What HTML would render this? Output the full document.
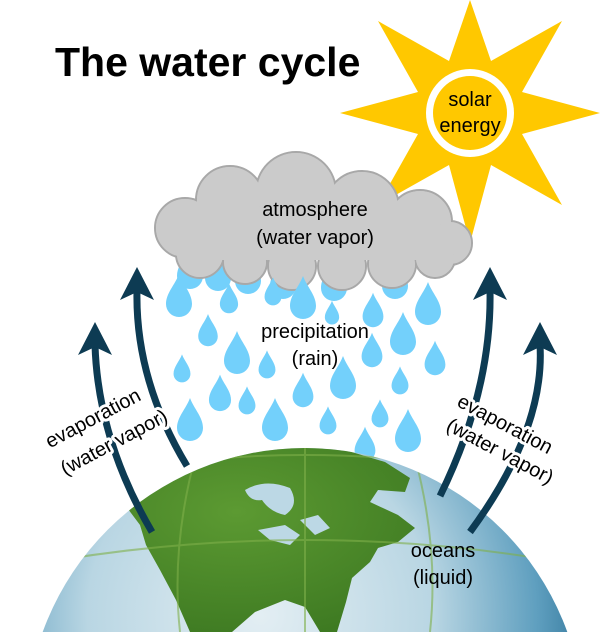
<!DOCTYPE html>
<html><head><meta charset="utf-8"><style>
html,body{margin:0;padding:0;background:#fff;width:601px;height:632px;overflow:hidden;}
svg{display:block;overflow:hidden;}
text{font-family:"Liberation Sans",Arial,sans-serif;fill:#000;}
.h{stroke:#fff;stroke-width:6px;paint-order:stroke;stroke-linejoin:round;}
</style></head><body>
<svg width="601" height="632" viewBox="0 0 601 632" xmlns="http://www.w3.org/2000/svg">
<defs>
<radialGradient id="oc" cx="0.42" cy="0.3" r="0.62">
<stop offset="0" stop-color="#e3eef3"/><stop offset="0.5" stop-color="#b9d6e3"/><stop offset="0.8" stop-color="#5f9fbf"/><stop offset="1" stop-color="#256a90"/>
</radialGradient>
<radialGradient id="ld" cx="0.45" cy="0.35" r="0.7">
<stop offset="0" stop-color="#5c9a32"/><stop offset="1" stop-color="#3e7a22"/>
</radialGradient>
<clipPath id="gc"><circle cx="305" cy="727" r="279"/></clipPath>
<clipPath id="fr"><rect x="0" y="0" width="601" height="632"/></clipPath>
<g id="dp"><path d="M0,-24 C4,-13 13,-5 13,6 A13,13 0 0 1 -13,6 C-13,-5 -4,-13 0,-24Z" fill="#73d0fb"/></g>
</defs>
<g clip-path="url(#fr)">
<text x="55" y="76" font-size="41" font-weight="bold">The water cycle</text>

<!-- sun -->
<polygon fill="#ffc800" points="470,0 491,61 562,21 522,92 600,113 522,134 562,205 491,165 470,243 449,165 378,205 418,134 340,113 418,92 378,21 449,61"/>
<circle cx="470" cy="113" r="44" fill="#fff"/>
<circle cx="470" cy="113" r="37" fill="#ffc800"/>
<text x="470" y="106" font-size="20" text-anchor="middle">solar</text>
<text x="470" y="132" font-size="20" text-anchor="middle">energy</text>

<!-- drops behind cloud -->
<use href="#dp" x="190" y="270"/>
<use href="#dp" x="218" y="272"/>
<use href="#dp" x="248" y="275"/>
<use href="#dp" x="283" y="280"/>
<use href="#dp" x="334" y="282"/>
<use href="#dp" x="395" y="280"/>

<!-- cloud -->
<g fill="#cbcbcb" stroke="#a8a8a8" stroke-width="2">
<circle cx="185" cy="228" r="30"/><circle cx="230" cy="200" r="34"/><circle cx="296" cy="192" r="40"/>
<circle cx="362" cy="208" r="37"/><circle cx="420" cy="222" r="32"/><circle cx="450" cy="243" r="22"/>
<circle cx="200" cy="254" r="24"/><circle cx="245" cy="262" r="22"/><circle cx="292" cy="266" r="24"/>
<circle cx="342" cy="266" r="24"/><circle cx="392" cy="264" r="24"/><circle cx="435" cy="258" r="20"/>
</g>
<g fill="#cbcbcb">
<circle cx="185" cy="228" r="29"/><circle cx="230" cy="200" r="33"/><circle cx="296" cy="192" r="39"/>
<circle cx="362" cy="208" r="36"/><circle cx="420" cy="222" r="31"/><circle cx="450" cy="243" r="21"/>
<circle cx="200" cy="254" r="23"/><circle cx="245" cy="262" r="21"/><circle cx="292" cy="266" r="23"/>
<circle cx="342" cy="266" r="23"/><circle cx="392" cy="264" r="23"/><circle cx="435" cy="258" r="19"/>
<rect x="190" y="210" width="250" height="50"/>
</g>
<text x="315" y="216" font-size="20" text-anchor="middle">atmosphere</text>
<text x="315" y="244" font-size="20" text-anchor="middle">(water vapor)</text>

<!-- rain drops -->
<use href="#dp" x="179" y="298"/>
<use href="#dp" x="229" y="300" transform="translate(229,300) scale(0.7) translate(-229,-300)"/>
<use href="#dp" x="208" y="332" transform="translate(208,332) scale(0.75) translate(-208,-332)"/>
<use href="#dp" x="237" y="355"/>
<use href="#dp" x="182" y="370" transform="translate(182,370) scale(0.65) translate(-182,-370)"/>
<use href="#dp" x="220" y="395" transform="translate(220,395) scale(0.85) translate(-220,-395)"/>
<use href="#dp" x="247" y="402" transform="translate(247,402) scale(0.65) translate(-247,-402)"/>
<use href="#dp" x="267" y="366" transform="translate(267,366) scale(0.65) translate(-267,-366)"/>
<use href="#dp" x="273" y="293" transform="translate(273,293) scale(0.65) translate(-273,-293)"/>
<use href="#dp" x="303" y="300"/>
<use href="#dp" x="332" y="314" transform="translate(332,314) scale(0.55) translate(-332,-314)"/>
<use href="#dp" x="373" y="312" transform="translate(373,312) scale(0.8) translate(-373,-312)"/>
<use href="#dp" x="428" y="306"/>
<use href="#dp" x="403" y="336"/>
<use href="#dp" x="372" y="352" transform="translate(372,352) scale(0.8) translate(-372,-352)"/>
<use href="#dp" x="435" y="360" transform="translate(435,360) scale(0.8) translate(-435,-360)"/>
<use href="#dp" x="343" y="380"/>
<use href="#dp" x="400" y="382" transform="translate(400,382) scale(0.65) translate(-400,-382)"/>
<use href="#dp" x="303" y="392" transform="translate(303,392) scale(0.8) translate(-303,-392)"/>
<use href="#dp" x="190" y="422"/>
<use href="#dp" x="275" y="422"/>
<use href="#dp" x="328" y="422" transform="translate(328,422) scale(0.65) translate(-328,-422)"/>
<use href="#dp" x="380" y="415" transform="translate(380,415) scale(0.65) translate(-380,-415)"/>
<use href="#dp" x="408" y="433"/>
<use href="#dp" x="365" y="446" transform="translate(365,446) scale(0.8) translate(-365,-446)"/>

<text x="315" y="338" font-size="20" text-anchor="middle">precipitation</text>
<text x="315" y="365" font-size="20" text-anchor="middle">(rain)</text>

<!-- globe -->
<circle cx="305" cy="727" r="279" fill="url(#oc)"/>
<g clip-path="url(#gc)">
<path fill="url(#ld)" d="M145,472 L200,455 L250,449 L300,447 L345,450 L385,462 L410,478 L405,492 L378,490 L370,502 L398,515 L415,528 L398,542 L378,548 L370,562 L352,578 L346,602 L337,632 L320,632 L305,607 L285,600 L255,612 L232,632 L190,632 L176,600 L160,570 L146,545 L140,525 L125,505 L90,500 L115,485 Z"/>
<path fill="#bcd8e5" d="M245,490 Q265,478 290,488 Q300,505 285,515 Q270,512 262,500 Q250,502 245,490Z"/>
<path fill="#bcd8e5" d="M258,530 L285,525 L300,535 L290,545 L270,540 Z"/>
<path fill="#bcd8e5" d="M300,520 L318,515 L330,528 L315,535 Z"/>
<g stroke="#7fb04a" stroke-width="2" fill="none" opacity="0.6">
<path d="M120,470 Q305,440 490,470"/><path d="M60,560 Q305,520 550,560"/>
<path d="M200,440 Q170,540 180,632"/><path d="M305,440 L305,632"/><path d="M410,440 Q440,540 430,632"/>
</g>
</g>

<!-- arrows -->
<g stroke="#0d3b53" stroke-width="7" fill="none">
<path d="M152,532 Q98,440 95,345"/>
<path d="M187,466 Q135,380 137,290"/>
<path d="M440,496 Q492,390 490,290"/>
<path d="M470,532 Q545,430 540,345"/>
</g>
<g fill="#0d3b53">
<path d="M95,322 L112,355 L95,347 L78,355 Z"/>
<path d="M137,267 L154,300 L137,292 L120,300 Z"/>
<path d="M490,267 L507,300 L490,292 L473,300 Z"/>
<path d="M540,322 L557,355 L540,347 L523,355 Z"/>
</g>

<text class="h" font-size="20" text-anchor="middle" transform="translate(96,424) rotate(-28)">evaporation</text>
<text class="h" font-size="20" text-anchor="middle" transform="translate(117,448) rotate(-28)">(water vapor)</text>
<text class="h" font-size="20" text-anchor="middle" transform="translate(502,430) rotate(28)">evaporation</text>
<text class="h" font-size="20" text-anchor="middle" transform="translate(497,457) rotate(28)">(water vapor)</text>

<text x="443" y="557" font-size="20" text-anchor="middle">oceans</text>
<text x="443" y="584" font-size="20" text-anchor="middle">(liquid)</text>
</g>
</svg>
</body></html>
